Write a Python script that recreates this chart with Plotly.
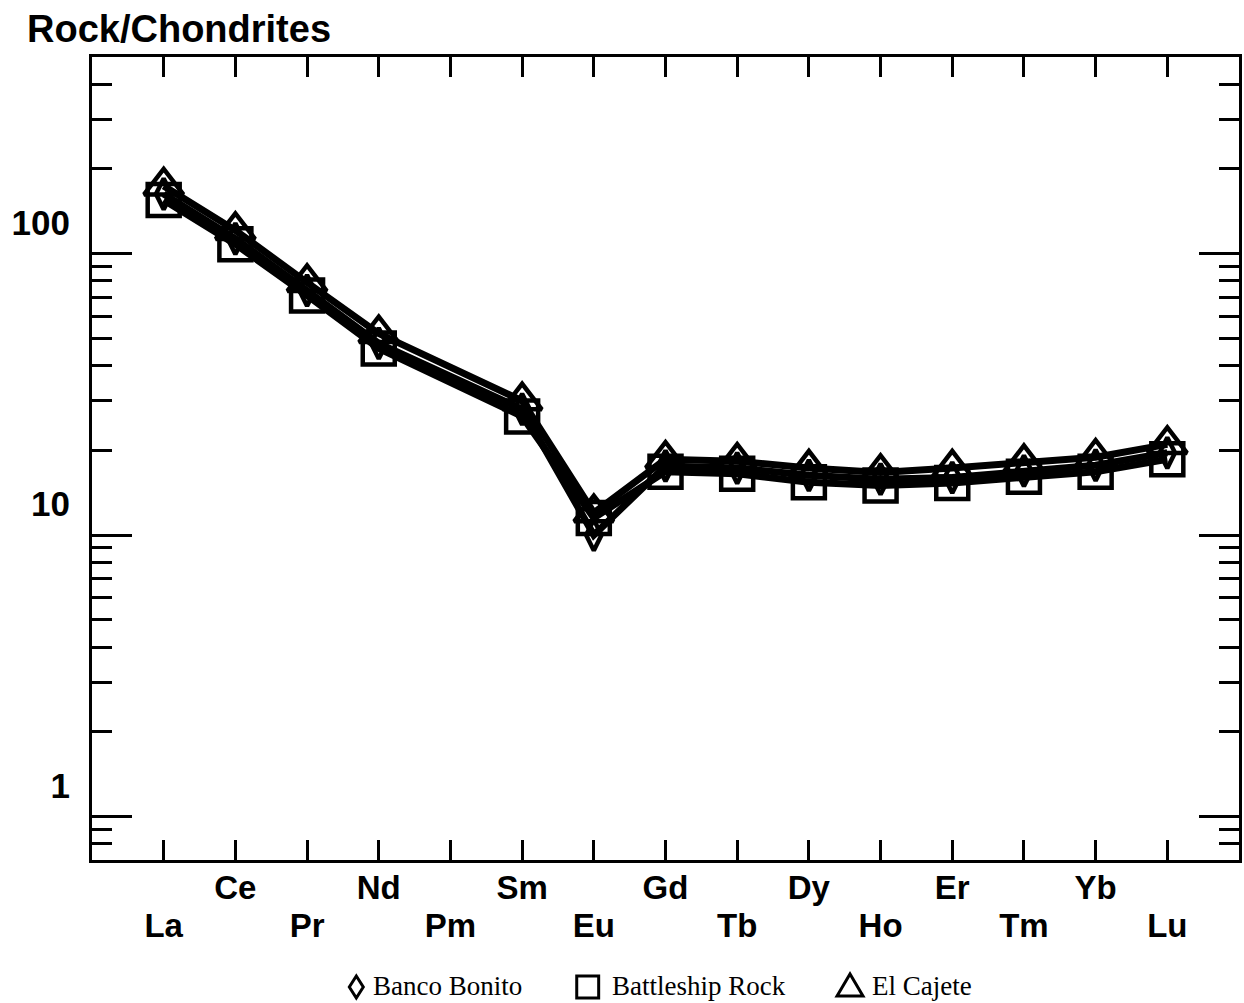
import plotly.graph_objects as go
import math

elements = ["La", "Ce", "Pr", "Nd", "Pm", "Sm", "Eu", "Gd", "Tb", "Dy", "Ho", "Er", "Tm", "Yb", "Lu"]
banco_bonito = [163, 113, 74, 48, None, 28, 10.0, 17.6, 17.3, 16.3, 15.8, 16.0, 16.9, 17.7, 19.6]
battleship_rock = [155, 108, 71, 46, None, 26.4, 11.5, 16.8, 16.5, 15.4, 15.0, 15.3, 16.1, 16.8, 18.6]
el_cajete = [174, 121, 79, 52, None, 30, 12.0, 18.6, 18.3, 17.3, 16.7, 17.3, 18.1, 18.9, 21.0]

y_major = [1, 10, 100]
y_major_text = ["1", "10", "100"]

xs = list(range(len(elements)))

fig = go.Figure()
series = [
    ("Banco Bonito", banco_bonito, "diamond-tall-open", 22),
    ("Battleship Rock", battleship_rock, "square-open", 32),
    ("El Cajete", el_cajete, "triangle-up-open", 34),
]
# connecting lines first
for name, vals, sym, sz in series:
    fig.add_trace(go.Scatter(
        x=xs, y=vals, name=name, mode="lines", connectgaps=True,
        line=dict(color="black", width=7), showlegend=False,
    ))
# markers on top
for name, vals, sym, sz in series:
    fig.add_trace(go.Scatter(
        x=xs, y=vals, name=name, mode="markers",
        marker=dict(symbol=sym, size=sz, color="black", line=dict(color="black", width=4.5)),
        showlegend=False,
    ))

# helper trace for second x-axis (second row of labels)
fig.add_trace(go.Scatter(x=[None], y=[None], xaxis="x2", yaxis="y", showlegend=False, hoverinfo="skip"))

minor_vals = [m * 10 ** e for e in (-1, 0, 1, 2) for m in range(2, 10)]
minor_vals = [v for v in minor_vals if 0.7 <= v <= 500]

label_font = dict(family="Liberation Sans, Arial", size=33, color="black", weight="bold")

fig.update_layout(
    width=1244, height=1003,
    margin=dict(l=92, r=2, t=57, b=143),
    plot_bgcolor="white", paper_bgcolor="white",
    title=dict(text="<b>Rock/Chondrites</b>", xref="container", yref="container",
               x=27 / 1244, xanchor="left", y=1 - 29 / 1003, yanchor="middle",
               font=dict(family="Liberation Sans, Arial", size=38, color="black")),
    xaxis=dict(
        range=[-1, 15], tickvals=xs,
        ticktext=[e if i % 2 == 1 else "" for i, e in enumerate(elements)],
        ticks="inside", ticklen=20, tickwidth=3, tickcolor="black",
        showline=True, linewidth=3, linecolor="black", mirror="ticks",
        showgrid=False, zeroline=False, tickfont=label_font, ticklabelstandoff=-4,
    ),
    xaxis2=dict(
        range=[-1, 15], overlaying="x", side="bottom", anchor="y",
        tickvals=[i for i in xs if i % 2 == 0],
        ticktext=[e for i, e in enumerate(elements) if i % 2 == 0],
        ticks="", showline=False, showgrid=False, zeroline=False,
        tickfont=label_font, ticklabelstandoff=43,
    ),
    yaxis=dict(
        type="log", range=[math.log10(0.7), math.log10(500)],
        tickvals=y_major, ticktext=y_major_text,
        ticks="inside", ticklen=40, tickwidth=3, tickcolor="black",
        minor=dict(tickvals=minor_vals, ticks="inside", ticklen=20, tickwidth=3, tickcolor="black", showgrid=False),
        showline=True, linewidth=3, linecolor="black", mirror="ticks",
        showgrid=False, zeroline=False,
        tickfont=dict(family="Liberation Sans, Arial", size=35, color="black", weight="bold"),
        ticklabelshift=-31, ticklabelstandoff=12,
    ),
)

# legend below the plot: symbols as shapes, names as text (pixel -> paper coords)
def px_x(v):
    return (v - 92) / 1150

def px_y(v):
    return (860 - v) / 803

leg_line = dict(color="black", width=3)
# diamond (Banco Bonito)
fig.add_shape(type="path", xref="paper", yref="paper", line=leg_line,
              path=f"M {px_x(357)},{px_y(976)} L {px_x(364)},{px_y(987)} L {px_x(357)},{px_y(998)} L {px_x(350)},{px_y(987)} Z")
# square (Battleship Rock)
fig.add_shape(type="rect", xref="paper", yref="paper", line=leg_line,
              x0=px_x(578), x1=px_x(600), y0=px_y(976), y1=px_y(998))
# triangle (El Cajete)
fig.add_shape(type="path", xref="paper", yref="paper", line=leg_line,
              path=f"M {px_x(839)},{px_y(996)} L {px_x(865)},{px_y(996)} L {px_x(852)},{px_y(974)} Z")

legend_texts = [("Banco Bonito", 372), ("Battleship Rock", 611), ("El Cajete", 872)]
for text, px in legend_texts:
    fig.add_annotation(
        text=text, xref="paper", yref="paper",
        x=px_x(px), y=px_y(986), xanchor="left", yanchor="middle",
        showarrow=False, font=dict(family="Liberation Serif, Times New Roman", size=27, color="black"),
    )

fig.write_html("out.html", post_script="document.body.style.margin='0px';",
               config={"displayModeBar": False})
